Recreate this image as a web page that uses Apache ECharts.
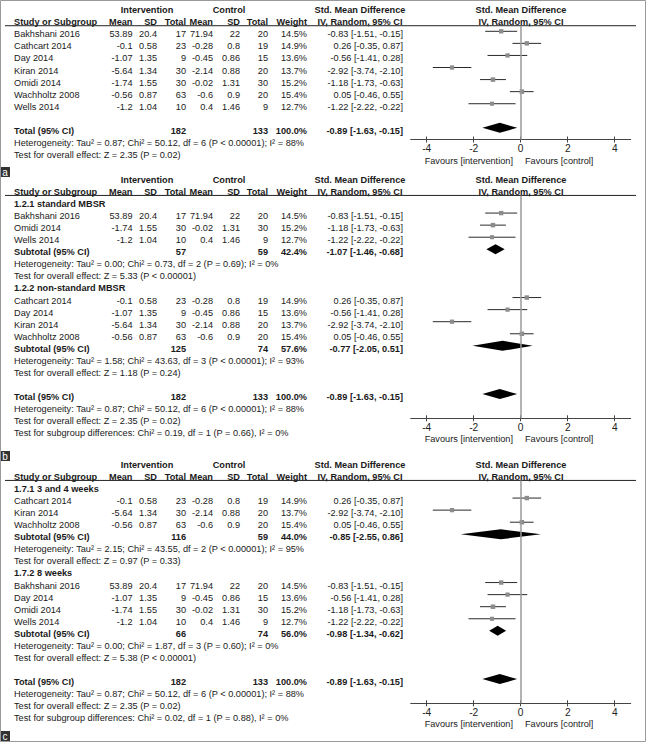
<!DOCTYPE html>
<html><head><meta charset="utf-8">
<script src="https://cdn.jsdelivr.net/npm/echarts@6/dist/echarts.min.js"></script>
<style>html,body{margin:0;padding:0;background:#fff}#c{width:646px;height:742px}</style>
</head><body><div id="c"></div>
<script>
// ---------- data ----------
const studies  = ['Bakhshani 2016','Cathcart 2014','Day 2014','Kiran 2014','Omidi 2014','Wachholtz 2008','Wells 2014'];
const intMean  = [53.89, -0.1, -1.07, -5.64, -1.74, -0.56, -1.2];
const intSD    = [20.4, 0.58, 1.35, 1.34, 1.55, 0.87, 1.04];
const intN     = [17, 23, 9, 30, 30, 63, 10];
const ctlMean  = [71.94, -0.28, -0.45, -2.14, -0.02, -0.6, 0.4];
const ctlSD    = [22, 0.8, 0.86, 0.88, 1.31, 0.9, 1.46];
const ctlN     = [20, 19, 15, 20, 30, 20, 9];
const weights  = [14.5, 14.9, 13.6, 13.7, 15.2, 15.4, 12.7];
const smd      = [-0.83, 0.26, -0.56, -2.92, -1.18, 0.05, -1.22];
const ciLow    = [-1.51, -0.35, -1.41, -3.74, -1.73, -0.46, -2.22];
const ciHigh   = [-0.15, 0.87, 0.28, -2.10, -0.63, 0.55, -0.22];

const totalRow = {nI:182, nC:133, w:100.0, est:-0.89, lo:-1.63, hi:-0.15};
const totalHet = 'Heterogeneity: Tau\u00b2 = 0.87; Chi\u00b2 = 50.12, df = 6 (P < 0.00001); I\u00b2 = 88%';
const totalTest = 'Test for overall effect: Z = 2.35 (P = 0.02)';

// panel b subgroups
const groupB1 = {label:'1.2.1 standard MBSR', idx:[0,4,6], sub:{nI:57, nC:59, w:42.4, est:-1.07, lo:-1.46, hi:-0.68},
  het:'Heterogeneity: Tau\u00b2 = 0.00; Chi\u00b2 = 0.73, df = 2 (P = 0.69); I\u00b2 = 0%', test:'Test for overall effect: Z = 5.33 (P < 0.00001)'};
const groupB2 = {label:'1.2.2 non-standard MBSR', idx:[1,2,3,5], sub:{nI:125, nC:74, w:57.6, est:-0.77, lo:-2.05, hi:0.51},
  het:'Heterogeneity: Tau\u00b2 = 1.58; Chi\u00b2 = 43.63, df = 3 (P < 0.00001); I\u00b2 = 93%', test:'Test for overall effect: Z = 1.18 (P = 0.24)'};
const subDiffB = 'Test for subgroup differences: Chi\u00b2 = 0.19, df = 1 (P = 0.66), I\u00b2 = 0%';
// panel c subgroups
const groupC1 = {label:'1.7.1 3 and 4 weeks', idx:[1,3,5], sub:{nI:116, nC:59, w:44.0, est:-0.85, lo:-2.55, hi:0.86},
  het:'Heterogeneity: Tau\u00b2 = 2.15; Chi\u00b2 = 43.55, df = 2 (P < 0.00001); I\u00b2 = 95%', test:'Test for overall effect: Z = 0.97 (P = 0.33)'};
const groupC2 = {label:'1.7.2 8 weeks', idx:[0,2,4,6], sub:{nI:66, nC:74, w:56.0, est:-0.98, lo:-1.34, hi:-0.62},
  het:'Heterogeneity: Tau\u00b2 = 0.00; Chi\u00b2 = 1.87, df = 3 (P = 0.60); I\u00b2 = 0%', test:'Test for overall effect: Z = 5.38 (P < 0.00001)'};
const subDiffC = 'Test for subgroup differences: Chi\u00b2 = 0.02, df = 1 (P = 0.88), I\u00b2 = 0%';

const xTicks = [-4, -2, 0, 2, 4];
const xMin = -4.68, xMax = 4.68;

// ---------- layout ----------
const FONT = '"Liberation Sans", Arial, sans-serif';
const FS = 9.2;
const ROW = 12.07;
const TXT = '#1a1a1a';
const COL = {name:14, iMean:132.5, iSD:157, iN:186, cMean:213, cSD:240, cN:268, w:307, ci:403, ciHead:360, grpI:147, grpC:229};
const PLOT = {left:410.7, right:630.7, mid:521};

function buildRows(groups, subDiff){
  const rows = [];
  if (!groups) {
    for (let i = 0; i < studies.length; i++) rows.push({k:'study', i});
  } else {
    groups.forEach((g) => {
      rows.push({k:'group', text:g.label});
      g.idx.forEach(i => rows.push({k:'study', i}));
      rows.push({k:'sub', d:g.sub, text:'Subtotal (95% CI)'});
      rows.push({k:'note', text:g.het});
      rows.push({k:'note', text:g.test});
    });
  }
  rows.push({k:'blank'});
  rows.push({k:'sub', d:totalRow, text:'Total (95% CI)'});
  rows.push({k:'note', text:totalHet});
  rows.push({k:'note', text:totalTest});
  if (subDiff) rows.push({k:'note', text:subDiff});
  return rows;
}

const panels = [
  {label:'a', row0:34.3, axisY:139.5, labelY:167, rows:buildRows(null, null)},
  {label:'b', row0:204.0, axisY:418.3, labelY:451, rows:buildRows([groupB1, groupB2], subDiffB)},
  {label:'c', row0:489.0, axisY:703.3, labelY:731, rows:buildRows([groupC1, groupC2], subDiffC)}
];

const fmt2 = v => v.toFixed(2);
const ciText = d => fmt2(d.est) + ' [' + fmt2(d.lo) + ', ' + fmt2(d.hi) + ']';

const graphics = [];
function txt(x, y, text, align, bold){
  graphics.push({type:'text', x:x, y:y, silent:true,
    style:{text:String(text), font:(bold?'bold ':'') + FS + 'px ' + FONT, fill:TXT,
      align:align, textAlign:align, verticalAlign:'middle', textVerticalAlign:'middle'}});
}
function hline(x1, x2, y, color, w){
  graphics.push({type:'line', silent:true, shape:{x1:x1, y1:y, x2:x2, y2:y}, style:{stroke:color, lineWidth:w}});
}

const grids = [], xAxes = [], yAxes = [], series = [];

panels.forEach((p, pi) => {
  const yOf = r => p.row0 + r * ROW;
  const top = yOf(-1) + 3.5;
  // headers
  txt(COL.grpI, yOf(-2), 'Intervention', 'center', true);
  txt(COL.grpC, yOf(-2), 'Control', 'center', true);
  txt(COL.ciHead, yOf(-2), 'Std. Mean Difference', 'center', true);
  txt(PLOT.mid, yOf(-2), 'Std. Mean Difference', 'center', true);
  txt(COL.name, yOf(-1), 'Study or Subgroup', 'left', true);
  txt(COL.iMean, yOf(-1), 'Mean', 'right', true);
  txt(COL.iSD, yOf(-1), 'SD', 'right', true);
  txt(COL.iN, yOf(-1), 'Total', 'right', true);
  txt(COL.cMean, yOf(-1), 'Mean', 'right', true);
  txt(COL.cSD, yOf(-1), 'SD', 'right', true);
  txt(COL.cN, yOf(-1), 'Total', 'right', true);
  txt(COL.w, yOf(-1), 'Weight', 'right', true);
  txt(COL.ciHead, yOf(-1), 'IV, Random, 95% CI', 'center', true);
  txt(PLOT.mid, yOf(-1), 'IV, Random, 95% CI', 'center', true);
  hline(5, 636, top, '#222', 1);

  const studyData = [], diaData = [];
  p.rows.forEach((r, ri) => {
    const y = yOf(ri);
    if (r.k === 'study') {
      const i = r.i;
      txt(COL.name, y, studies[i], 'left', false);
      txt(COL.iMean, y, intMean[i], 'right', false);
      txt(COL.iSD, y, intSD[i], 'right', false);
      txt(COL.iN, y, intN[i], 'right', false);
      txt(COL.cMean, y, ctlMean[i], 'right', false);
      txt(COL.cSD, y, ctlSD[i], 'right', false);
      txt(COL.cN, y, ctlN[i], 'right', false);
      txt(COL.w, y, weights[i].toFixed(1) + '%', 'right', false);
      txt(COL.ci, y, fmt2(smd[i]) + ' [' + fmt2(ciLow[i]) + ', ' + fmt2(ciHigh[i]) + ']', 'right', false);
      studyData.push([smd[i], ri, ciLow[i], ciHigh[i], weights[i]]);
    } else if (r.k === 'group') {
      txt(COL.name, y, r.text, 'left', true);
    } else if (r.k === 'sub') {
      const d = r.d;
      txt(COL.name, y, r.text, 'left', true);
      txt(COL.iN, y, d.nI, 'right', true);
      txt(COL.cN, y, d.nC, 'right', true);
      txt(COL.w, y, d.w.toFixed(1) + '%', 'right', true);
      txt(COL.ci, y, ciText(d), 'right', true);
      diaData.push([d.est, ri, d.lo, d.hi]);
    } else if (r.k === 'note') {
      txt(COL.name, y, r.text, 'left', false);
    }
  });

  // favours labels
  txt(PLOT.mid - 8, p.axisY + 21, 'Favours [intervention]', 'right', false);
  txt(PLOT.mid + 4, p.axisY + 21, 'Favours [control]', 'left', false);

  // panel label box
  graphics.push({type:'rect', silent:true, shape:{x:0, y:p.labelY, width:10, height:10}, style:{fill:'#333'}});
  graphics.push({type:'text', silent:true, x:5, y:p.labelY + 5,
    style:{text:p.label, font:'10px ' + FONT, fill:'#fff', align:'center', textAlign:'center', verticalAlign:'middle', textVerticalAlign:'middle'}});

  // grid
  grids.push({left:PLOT.left, width:PLOT.right - PLOT.left, top:top, height:p.axisY - top, containLabel:false});
  const ymin = -(p.row0 - 3 - top) / ROW;
  const ymax = ymin + (p.axisY - top) / ROW;
  yAxes.push({type:'value', gridIndex:pi, inverse:true, min:ymin, max:ymax, show:false});
  xAxes.push({type:'value', gridIndex:pi, min:xMin, max:xMax, position:'bottom',
    splitLine:{show:false},
    axisLine:{show:true, onZero:false, lineStyle:{color:'#444', width:1}},
    axisTick:{show:true, length:3, customValues:xTicks, lineStyle:{color:'#444'}},
    axisLabel:{show:true, customValues:xTicks, color:'#222', fontSize:FS + 1, fontFamily:FONT, margin:4}
  });
  xAxes.push({type:'value', gridIndex:pi, min:xMin, max:xMax, position:'bottom',
    splitLine:{show:false}, axisLine:{show:false, onZero:false},
    axisTick:{show:true, inside:true, length:3, customValues:xTicks, lineStyle:{color:'#444'}},
    axisLabel:{show:false}
  });

  series.push({
    type:'custom', xAxisIndex:pi * 2, yAxisIndex:pi, silent:true, data:studyData,
    encode:{x:0, y:1},
    renderItem:function(params, api){
      const lo = api.coord([api.value(2), api.value(1)]);
      const hi = api.coord([api.value(3), api.value(1)]);
      const c = api.coord([api.value(0), api.value(1)]);
      const s = Math.sqrt(api.value(4)) * 1.15;
      return {type:'group', children:[
        {type:'line', shape:{x1:lo[0], y1:lo[1], x2:hi[0], y2:hi[1]}, style:{stroke:'#2a2a2a', lineWidth:1}},
        {type:'rect', shape:{x:c[0] - s/2, y:c[1] - s/2, width:s, height:s}, style:{fill:'#8c8c8c'}}
      ]};
    },
    markLine:{silent:true, symbol:'none', label:{show:false},
      lineStyle:{color:'#9a9a9a', width:1.5, type:'solid'},
      data:[{xAxis:0}]},
    z:3
  });
  series.push({
    type:'custom', xAxisIndex:pi * 2, yAxisIndex:pi, silent:true, data:diaData,
    encode:{x:0, y:1},
    renderItem:function(params, api){
      const a = api.coord([api.value(2), api.value(1)]);
      const b = api.coord([api.value(3), api.value(1)]);
      const c = api.coord([api.value(0), api.value(1)]);
      const h = 5;
      return {type:'polygon', shape:{points:[[a[0], a[1]], [c[0], c[1] - h], [b[0], b[1]], [c[0], c[1] + h]]},
        style:{fill:'#000'}};
    },
    z:4
  });
});

// outer frame
graphics.push({type:'rect', silent:true, shape:{x:0.5, y:0.5, width:645, height:741}, style:{fill:'none', stroke:'#9a9a9a', lineWidth:1}});

const chart = echarts.init(document.getElementById('c'), null, {renderer:'svg', width:646, height:742});
chart.setOption({
  animation:false,
  backgroundColor:'#fff',
  grid:grids, xAxis:xAxes, yAxis:yAxes, series:series,
  graphic:{elements:graphics}
});
</script>
</body></html>
